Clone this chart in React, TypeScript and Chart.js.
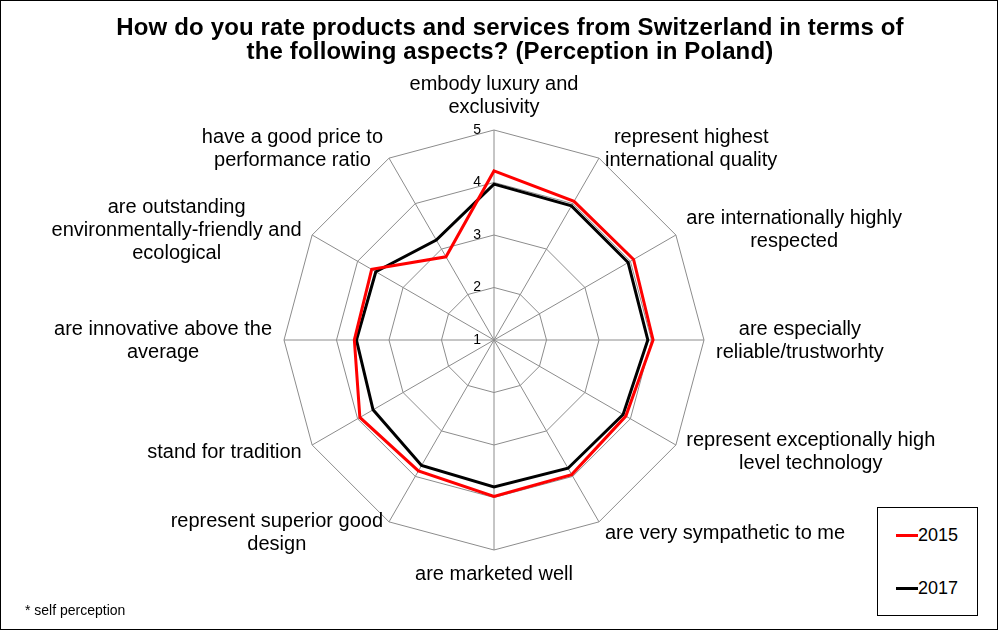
import React, { useEffect, useRef } from "react";
import { Chart, registerables } from "chart.js";

Chart.register(...registerables);

const FONT = '"Liberation Sans", Arial, Helvetica, sans-serif';

const categories: string[][] = [
  ["embody luxury and", "exclusivity"],
  ["represent highest", "international quality"],
  ["are internationally highly", "respected"],
  ["are especially", "reliable/trustworhty"],
  ["represent exceptionally high", "level technology"],
  ["are very sympathetic to me"],
  ["are marketed well"],
  ["represent superior good", "design"],
  ["stand for tradition"],
  ["are innovative above the", "average"],
  ["are outstanding", "environmentally-friendly and", "ecological"],
  ["have a good price to", "performance ratio"],
];

const series2015 = [4.22, 4.05, 4.07, 4.03, 3.9, 3.96, 3.98, 3.88, 3.95, 3.66, 3.69, 2.83];
const series2017 = [3.97, 3.95, 3.95, 3.93, 3.84, 3.82, 3.8, 3.76, 3.66, 3.62, 3.6, 3.2];

const tickValues = [1, 2, 3, 4, 5];
const scaleMin = 1;
const scaleMax = 5;

const titleLines = [
  "How do you rate products and services from Switzerland in terms of",
  "the following aspects? (Perception in Poland)",
];
const footnote = "* self perception";
const legendItems = [
  { label: "2015", color: "#ff0000" },
  { label: "2017", color: "#000000" },
];

const labelPlugin = {
  id: "customRadarLabels",
  afterDraw(chart: any) {
    const scale = chart.scales.r;
    const ctx = chart.ctx as CanvasRenderingContext2D;
    ctx.save();
    ctx.fillStyle = "#000";
    // tick labels
    ctx.font = `14px ${FONT}`;
    ctx.textAlign = "right";
    ctx.textBaseline = "middle";
    tickValues.forEach((v) => {
      const d = scale.getDistanceFromCenterForValue(v);
      ctx.fillText(String(v), scale.xCenter - 13, scale.yCenter - d);
    });
    // point labels
    ctx.font = `20px ${FONT}`;
    const lh = 23;
    const n = categories.length;
    categories.forEach((lines, i) => {
      const p = scale.getPointPosition(i, scale.drawingArea + 12);
      const angle = (i * 360) / n;
      const w = Math.max(...lines.map((l) => ctx.measureText(l).width));
      const h = lines.length * lh;
      let left: number;
      let top: number;
      if (angle === 0) {
        left = p.x - w / 2;
        top = p.y - h;
      } else if (angle === 180) {
        left = p.x - w / 2;
        top = p.y;
      } else if (angle < 180) {
        left = p.x;
        top = p.y - h / 2;
      } else {
        left = p.x - w;
        top = p.y - h / 2;
      }
      ctx.textAlign = "center";
      ctx.textBaseline = "middle";
      lines.forEach((l, k) => ctx.fillText(l, left + w / 2, top + lh * k + lh / 2 + 1));
    });
    ctx.restore();
  },
};

export default function App() {
  const ref = useRef<HTMLCanvasElement | null>(null);

  useEffect(() => {
    document.body.style.margin = "0";
    const canvas = ref.current;
    if (!canvas) return;
    const chart = new Chart(canvas, {
      type: "radar",
      data: {
        labels: categories.map((c) => c.join(" ")),
        datasets: [
          {
            label: "2015",
            data: series2015,
            borderColor: "#ff0000",
            backgroundColor: "#ff0000",
            borderWidth: 3,
            pointRadius: 0,
            fill: false,
            tension: 0,
          },
          {
            label: "2017",
            data: series2017,
            borderColor: "#000000",
            backgroundColor: "#000000",
            borderWidth: 3,
            pointRadius: 0,
            fill: false,
            tension: 0,
          },
        ],
      },
      options: {
        animation: false,
        responsive: false,
        devicePixelRatio: 1,
        layout: { padding: { left: 283, right: 293, top: 129, bottom: 79 } },
        plugins: {
          legend: { display: false },
          title: { display: false },
          tooltip: { enabled: false },
        },
        scales: {
          r: {
            min: scaleMin,
            max: scaleMax,
            beginAtZero: false,
            ticks: { display: false, stepSize: 1 },
            pointLabels: { display: false },
            grid: { color: "#8c8c8c", lineWidth: 1 },
            angleLines: { color: "#8c8c8c", lineWidth: 1 },
          },
        },
      },
      plugins: [labelPlugin],
    });
    return () => chart.destroy();
  }, []);

  return (
    <div
      style={{
        position: "relative",
        width: 998,
        height: 630,
        border: "1px solid #000",
        boxSizing: "border-box",
        background: "#fff",
        fontFamily: FONT,
      }}
    >
      <canvas
        ref={ref}
        width={996}
        height={628}
        style={{ position: "absolute", left: 0, top: 0, width: 996, height: 628 }}
      />
      <div
        style={{
          position: "absolute",
          left: 22,
          width: 974,
          top: 14,
          textAlign: "center",
          fontWeight: "bold",
          fontSize: 24,
          letterSpacing: "0.15px",
          lineHeight: "24px",
          color: "#000",
          whiteSpace: "nowrap",
        }}
      >
        {titleLines.map((t, i) => (
          <div key={i}>{t}</div>
        ))}
      </div>
      <div
        style={{
          position: "absolute",
          left: 24,
          top: 600,
          fontSize: 14,
          lineHeight: "18px",
          color: "#000",
        }}
      >
        {footnote}
      </div>
      <div
        style={{
          position: "absolute",
          left: 876,
          top: 506,
          width: 101,
          height: 109,
          border: "1px solid #000",
          boxSizing: "border-box",
          background: "#fff",
        }}
      >
        {legendItems.map((it, i) => (
          <div
            key={it.label}
            style={{
              position: "absolute",
              left: 18,
              top: 17 + i * 53,
              height: 20,
              display: "flex",
              alignItems: "center",
            }}
          >
            <span style={{ display: "inline-block", width: 22, height: 3, background: it.color }} />
            <span style={{ fontSize: 18, lineHeight: "20px", color: "#000" }}>{it.label}</span>
          </div>
        ))}
      </div>
    </div>
  );
}
